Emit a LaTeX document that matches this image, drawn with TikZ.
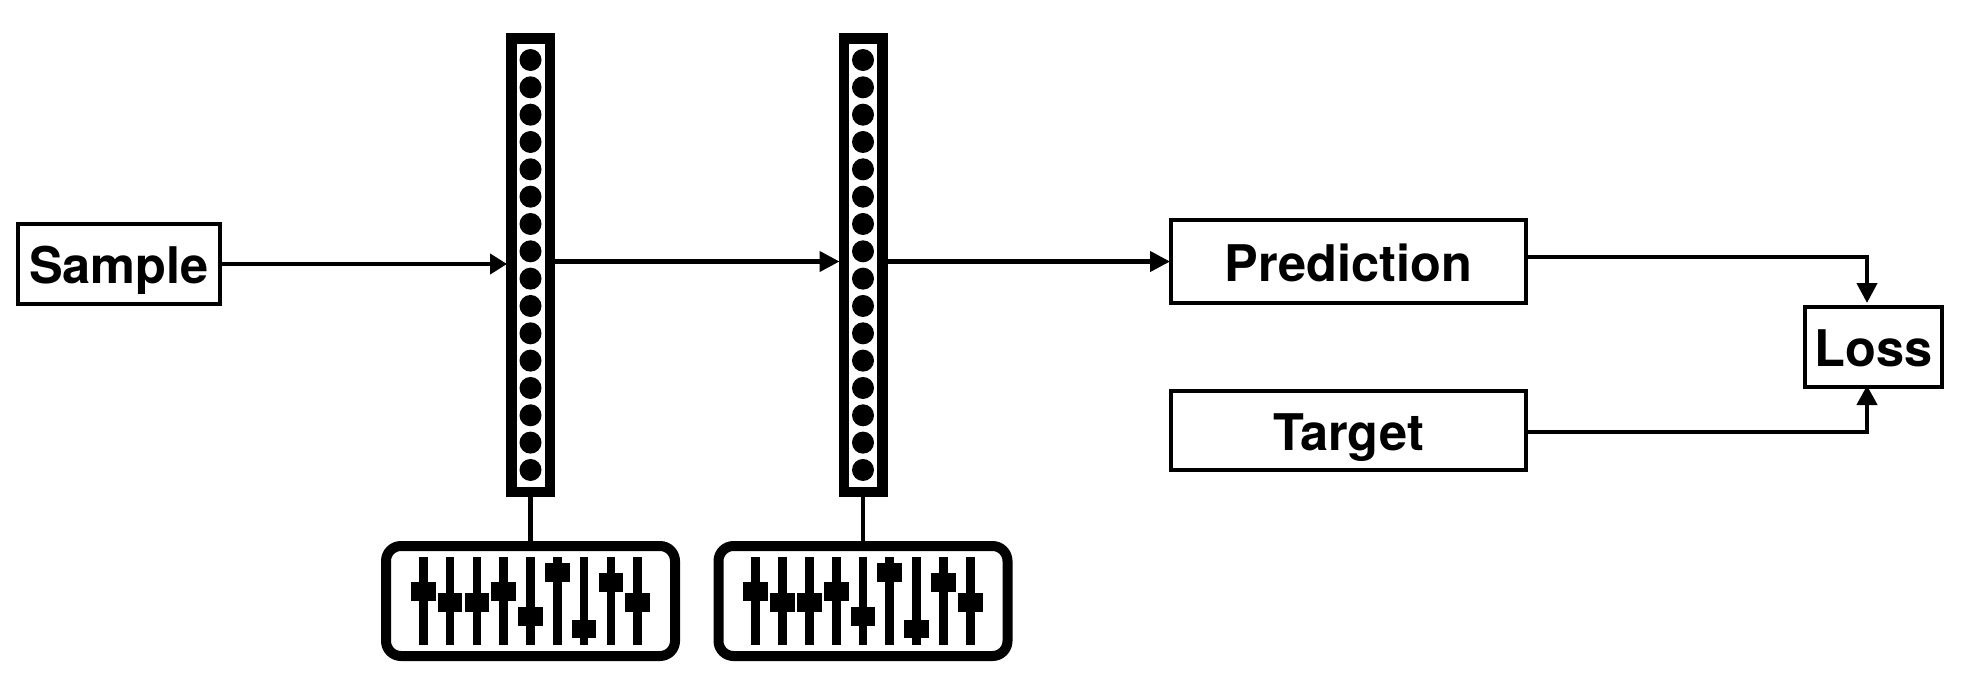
\documentclass[tikz,border=0pt]{standalone}
\usepackage{fontspec}
\setmainfont{TeX Gyre Heros}
\usetikzlibrary{arrows.meta}
\tikzset{
  box/.style={draw,line width=4.3pt,inner sep=0pt,text height=39pt,text depth=0pt,
    font=\fontsize{50.5}{50.5}\selectfont\bfseries},
  layerbar/.style={draw,line width=10.5pt,minimum width=38.5pt,minimum height=453.5pt,inner sep=0pt},
  slidersbox/.style={draw,line width=10pt,rounded corners=15pt,minimum width=289pt,minimum height=110pt,inner sep=0pt},
  link/.style={line width=4.3pt},
  flow/.style={line width=4.3pt,-{Triangle[length=#1,width=20pt]},shorten >=-1pt},
  flow/.default=20pt,
}
\begin{document}
\begin{tikzpicture}[x=1pt,y=-1pt]
\useasboundingbox (0,0) rectangle (1963,681);
\node [box,minimum width=201.7pt,minimum height=79.7pt] (sample) at (119,264) {Sample};
\node [box,minimum width=354.7pt,minimum height=82.7pt] (prediction) at (1348.5,261.5) {Prediction};
\node [box,minimum width=354.7pt,minimum height=78.7pt] (target) at (1348.5,430.5) {Target};
\node [box,minimum width=136.7pt,minimum height=79.7pt] (loss) at (1873.5,347) {Loss};
\foreach \n/\x in {1/530.5,2/863} {
  \node [layerbar] (layer\n) at (\x,265) {};
  \node [slidersbox] (knobs\n) at (\x,601) {};
  \draw [link] (layer\n.south) -- (knobs\n.north);
  \begin{scope}[shift={(\x,0)}]
    \foreach \i in {0,...,15}
      \fill [black] (0,60+27.33*\i) circle (11pt);
    \foreach \s/\k in {-107.2/591.7,-80.4/602.7,-53.6/602.7,-26.8/591.7,0/616.7,26.8/572.7,53.6/629,80.4/582.7,107.2/602.7} {
      \draw [line width=8.7pt] (\s,557.3) -- (\s,645);
      \fill [black] (\s,\k) +(-12.35,-9.35) rectangle +(12.35,9.35);
    }
  \end{scope}
}
\coordinate (lossbend_1) at (1867,257.3);
\coordinate (lossbend_2) at (1867,431.7);
\draw [flow=17pt] (sample.east) -- (sample.east -| layer1.west);
\draw [flow] (layer1.east |- prediction.west) -- (layer2.west |- prediction.west);
\draw [flow] (layer2.east |- prediction.west) -- (prediction.west);
\draw [flow,shorten >=2pt] (prediction.east |- lossbend_1) -- (lossbend_1) -- (lossbend_1 |- loss.north);
\draw [flow=19.5pt,shorten >=-3.5pt] (target.east |- lossbend_2) -- (lossbend_2) -- (lossbend_2 |- loss.south);
\end{tikzpicture}
\end{document}
